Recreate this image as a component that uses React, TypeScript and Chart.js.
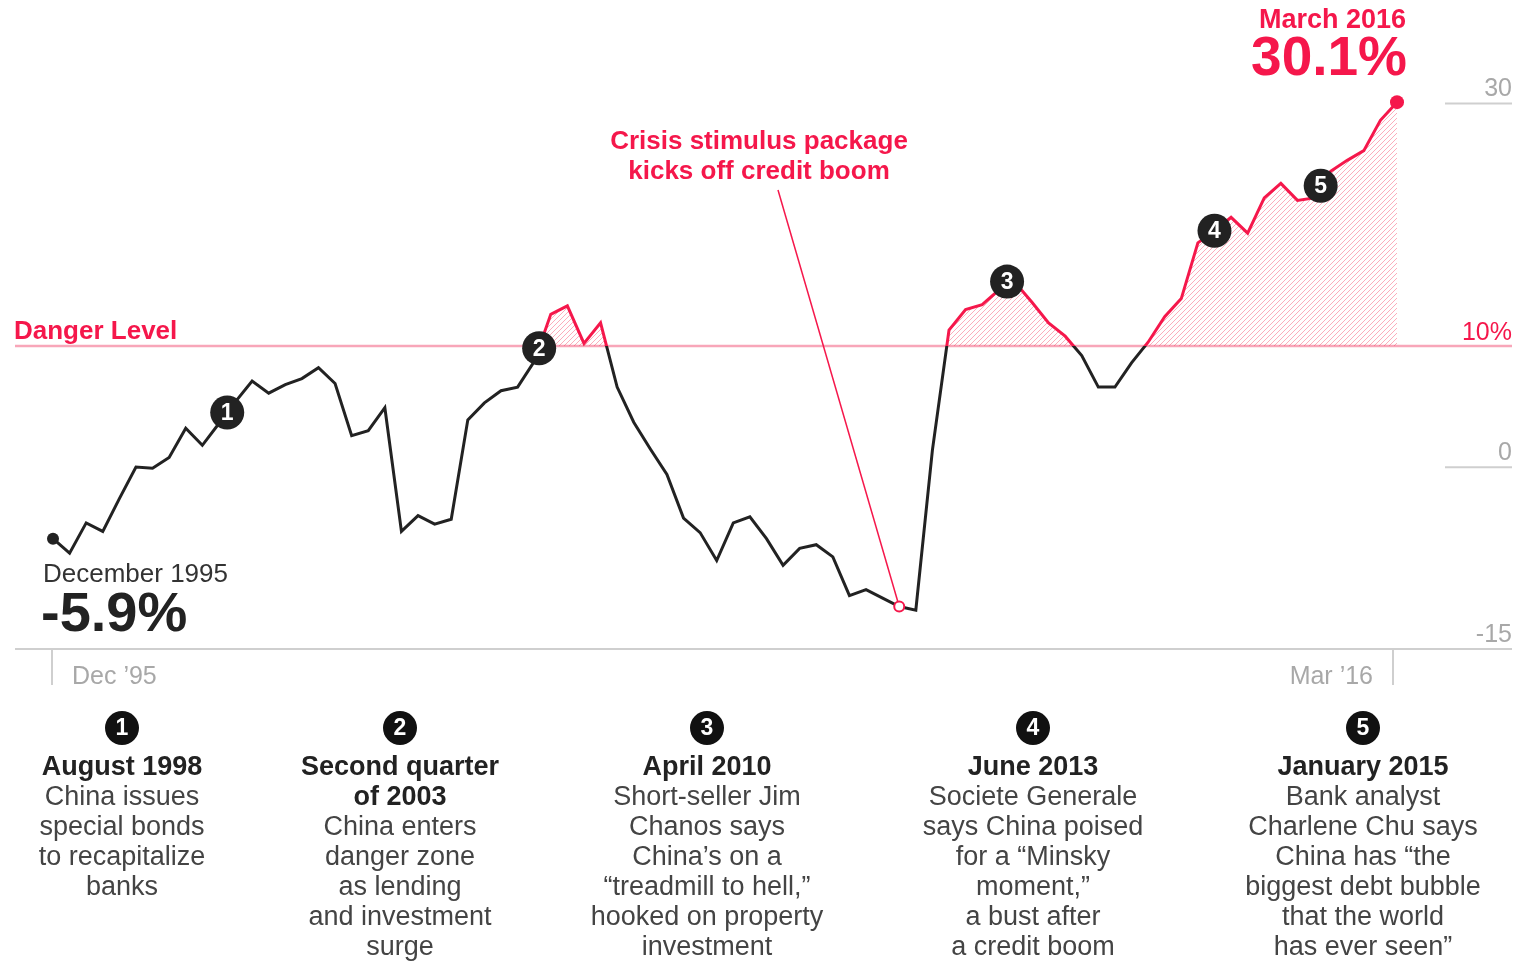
import React, { useEffect, useRef } from 'react';
import { Chart, registerables } from 'chart.js';

Chart.register(...registerables);

// Quarterly debt-ratio change, Dec 1995 .. Mar 2016 (82 quarters)
const RATIO: number[] = [
  -5.9, -7.1, -4.6, -5.3, -2.6, 0.0, -0.1, 0.8, 3.2, 1.8,
  3.6, 5.4, 7.1, 6.1, 6.8, 7.3, 8.2, 6.9, 2.6, 3.0,
  4.9, -5.3, -4.0, -4.7, -4.3, 3.9, 5.3, 6.3, 6.6, 8.7,
  12.6, 13.3, 10.2, 11.9, 6.6, 3.7, 1.5, -0.6, -4.2, -5.4,
  -7.7, -4.6, -4.1, -5.9, -8.1, -6.7, -6.4, -7.4, -10.6, -10.1,
  -10.8, -11.5, -11.8, 1.4, 11.3, 13.0, 13.4, 14.6, 15.2, 13.6,
  11.9, 10.8, 9.2, 6.6, 6.6, 8.6, 10.3, 12.4, 13.9, 18.5,
  19.5, 20.6, 19.3, 22.2, 23.4, 22.0, 22.2, 24.4, 25.3, 26.1,
  28.6, 30.1,
];

const X_TICK_LABELS = ['Dec \u201995', 'Mar \u201916'];
const Y_TICKS = [30, 0, -15];
const DANGER = 10;
const DANGER_TICK = '10%';

const START_TITLE = 'December 1995';
const START_VALUE = '-5.9%';
const END_TITLE = 'March 2016';
const END_VALUE = '30.1%';

const CRISIS_INDEX = 51;
const CRISIS_TEXT = ['Crisis stimulus package', 'kicks off credit boom'];

const EVENT_NUMS = ['1', '2', '3', '4', '5'];
const EVENT_X = [10.5, 29.3, 57.5, 70.0, 76.4];
const EVENT_Y = [4.5, 9.8, 15.3, 19.5, 23.2];
const EVENT_TITLES: string[][] = [
  ['August 1998'],
  ['Second quarter', 'of 2003'],
  ['April 2010'],
  ['June 2013'],
  ['January 2015'],
];
const EVENT_BODIES: string[][] = [
  ['China issues', 'special bonds', 'to recapitalize', 'banks'],
  ['China enters', 'danger zone', 'as lending', 'and investment', 'surge'],
  ['Short-seller Jim', 'Chanos says', 'China\u2019s on a', '\u201ctreadmill to hell,\u201d', 'hooked on property', 'investment'],
  ['Societe Generale', 'says China poised', 'for a \u201cMinsky', 'moment,\u201d', 'a bust after', 'a credit boom'],
  ['Bank analyst', 'Charlene Chu says', 'China has \u201cthe', 'biggest debt bubble', 'that the world', 'has ever seen\u201d'],
];
const EVENT_COLUMNS = [122, 400, 707, 1033, 1363];

const RED = '#f5174b';
const PINK = '#f8a6b9';
const DARK = '#222222';
const GRAY = '#a8a8a8';
const AXIS = '#cfcfcf';
const FONT = '"Liberation Sans", Arial, Helvetica, sans-serif';

function makeHatch(): CanvasPattern | string {
  const s = 5;
  const c = document.createElement('canvas');
  c.width = s;
  c.height = s;
  const g = c.getContext('2d');
  if (!g) return 'rgba(245,23,75,0.15)';
  g.strokeStyle = 'rgba(245, 60, 95, 0.42)';
  g.lineWidth = 1;
  g.beginPath();
  g.moveTo(0, s);
  g.lineTo(s, 0);
  g.moveTo(-1, 1);
  g.lineTo(1, -1);
  g.moveTo(s - 1, s + 1);
  g.lineTo(s + 1, s - 1);
  g.stroke();
  return g.createPattern(c, 'repeat') || 'rgba(245,23,75,0.15)';
}

function seg(ctx: CanvasRenderingContext2D, x1: number, y1: number, x2: number, y2: number) {
  ctx.beginPath();
  ctx.moveTo(x1, y1);
  ctx.lineTo(x2, y2);
  ctx.stroke();
}

function txt(ctx: CanvasRenderingContext2D, s: string, x: number, y: number, font: string, color: string, align: CanvasTextAlign) {
  ctx.font = font;
  ctx.fillStyle = color;
  ctx.textAlign = align;
  ctx.textBaseline = 'middle';
  ctx.fillText(s, x, y);
}

const overlay = {
  id: 'overlay',
  beforeDatasetsDraw(chart: any) {
    const { ctx, scales } = chart;
    const x = scales.x;
    const y = scales.y;
    ctx.save();
    const yd = y.getPixelForValue(DANGER);
    ctx.strokeStyle = PINK;
    ctx.lineWidth = 2.5;
    seg(ctx, 15, yd, 1512, yd);

    const yb = y.getPixelForValue(-15);
    ctx.strokeStyle = AXIS;
    ctx.lineWidth = 2;
    seg(ctx, 15, yb, 1512, yb);
    Y_TICKS.forEach((t) => {
      if (t === -15) return;
      const yy = y.getPixelForValue(t);
      seg(ctx, 1445, yy, 1512, yy);
    });
    const x0 = x.getPixelForValue(0) - 1;
    const x1 = x.getPixelForValue(RATIO.length - 1) - 4;
    seg(ctx, x0, yb, x0, yb + 36);
    seg(ctx, x1, yb, x1, yb + 36);
    ctx.restore();
  },
  afterDatasetsDraw(chart: any) {
    const { ctx, scales } = chart;
    const x = scales.x;
    const y = scales.y;
    ctx.save();

    // right axis labels
    Y_TICKS.forEach((t) => {
      txt(ctx, String(t), 1512, y.getPixelForValue(t) - 14, `25px ${FONT}`, GRAY, 'right');
    });
    txt(ctx, DANGER_TICK, 1512, y.getPixelForValue(DANGER) - 13, `25px ${FONT}`, RED, 'right');
    txt(ctx, 'Danger Level', 14, y.getPixelForValue(DANGER) - 14, `bold 26px ${FONT}`, RED, 'left');

    // x tick labels
    const yb = y.getPixelForValue(-15);
    txt(ctx, X_TICK_LABELS[0], 72, yb + 28, `25px ${FONT}`, GRAY, 'left');
    txt(ctx, X_TICK_LABELS[1], 1373, yb + 28, `25px ${FONT}`, GRAY, 'right');

    // crisis annotation
    const cx = x.getPixelForValue(CRISIS_INDEX);
    const cy = y.getPixelForValue(RATIO[CRISIS_INDEX]);
    ctx.strokeStyle = RED;
    ctx.lineWidth = 1.5;
    seg(ctx, 778, 190, cx, cy);
    ctx.beginPath();
    ctx.arc(cx, cy, 5, 0, Math.PI * 2);
    ctx.fillStyle = '#fff';
    ctx.fill();
    ctx.lineWidth = 2;
    ctx.stroke();
    txt(ctx, CRISIS_TEXT[0], 759, 142, `bold 26px ${FONT}`, RED, 'center');
    txt(ctx, CRISIS_TEXT[1], 759, 172, `bold 26px ${FONT}`, RED, 'center');

    // start / end dots
    const sx = x.getPixelForValue(0);
    const sy = y.getPixelForValue(RATIO[0]);
    ctx.beginPath();
    ctx.arc(sx, sy, 6, 0, Math.PI * 2);
    ctx.fillStyle = DARK;
    ctx.fill();
    const last = RATIO.length - 1;
    const ex = x.getPixelForValue(last);
    const ey = y.getPixelForValue(RATIO[last]);
    ctx.beginPath();
    ctx.arc(ex, ey, 7, 0, Math.PI * 2);
    ctx.fillStyle = RED;
    ctx.fill();

    txt(ctx, START_TITLE, 43, 575, `26px ${FONT}`, '#333', 'left');
    txt(ctx, START_VALUE, 41, 616, `bold 56px ${FONT}`, DARK, 'left');
    txt(ctx, END_TITLE, 1406, 21, `bold 27px ${FONT}`, RED, 'right');
    txt(ctx, END_VALUE, 1407, 60, `bold 55px ${FONT}`, RED, 'right');

    // numbered markers on the line
    EVENT_NUMS.forEach((n, i) => {
      const px = x.getPixelForValue(EVENT_X[i]);
      const py = y.getPixelForValue(EVENT_Y[i]);
      ctx.beginPath();
      ctx.arc(px, py, 17, 0, Math.PI * 2);
      ctx.fillStyle = DARK;
      ctx.fill();
      txt(ctx, n, px, py + 1, `bold 23px ${FONT}`, '#fff', 'center');
    });

    // bottom notes
    EVENT_NUMS.forEach((n, i) => {
      const colX = EVENT_COLUMNS[i];
      ctx.beginPath();
      ctx.arc(colX, 728, 17, 0, Math.PI * 2);
      ctx.fillStyle = '#111';
      ctx.fill();
      txt(ctx, n, colX, 729, `bold 23px ${FONT}`, '#fff', 'center');
      let ly = 768;
      EVENT_TITLES[i].forEach((t) => {
        txt(ctx, t, colX, ly, `bold 27px ${FONT}`, DARK, 'center');
        ly += 30;
      });
      EVENT_BODIES[i].forEach((t) => {
        txt(ctx, t, colX, ly, `27px ${FONT}`, '#444', 'center');
        ly += 30;
      });
    });

    ctx.restore();
  },
};

export default function App() {
  const ref = useRef<HTMLCanvasElement | null>(null);

  useEffect(() => {
    if (!ref.current) return;
    document.body.style.margin = '0';
    const hatch = makeHatch();
    const chart = new Chart(ref.current, {
      type: 'line',
      data: {
        datasets: [
          {
            data: RATIO.map((v, i) => ({ x: i, y: v })),
            borderWidth: 3,
            pointRadius: 0,
            tension: 0,
            clip: false,
            borderColor: (c: any) => {
              const ch = c.chart;
              const area = ch.chartArea;
              if (!area) return DARK;
              const yd = ch.scales.y.getPixelForValue(DANGER);
              const g = ch.ctx.createLinearGradient(0, area.top, 0, area.bottom);
              const t = Math.max(0, Math.min(1, (yd - area.top) / (area.bottom - area.top)));
              g.addColorStop(0, RED);
              g.addColorStop(t, RED);
              g.addColorStop(Math.min(1, t + 0.0005), DARK);
              g.addColorStop(1, DARK);
              return g;
            },
            fill: {
              target: { value: DANGER },
              above: hatch,
              below: 'rgba(0,0,0,0)',
            },
          } as any,
        ],
      },
      options: {
        animation: false,
        responsive: true,
        maintainAspectRatio: false,
        events: [],
        layout: { padding: { left: 53, right: 120, top: 67, bottom: 312 } },
        scales: {
          x: { type: 'linear', min: 0, max: RATIO.length - 1, display: false },
          y: { type: 'linear', min: -15, max: 33, display: false },
        },
        plugins: {
          legend: { display: false },
          tooltip: { enabled: false },
        },
      },
      plugins: [overlay],
    });
    return () => chart.destroy();
  }, []);

  return (
    <div style={{ position: 'fixed', left: 0, top: 0, width: 1517, height: 961, background: '#fff' }}>
      <canvas ref={ref} />
    </div>
  );
}
